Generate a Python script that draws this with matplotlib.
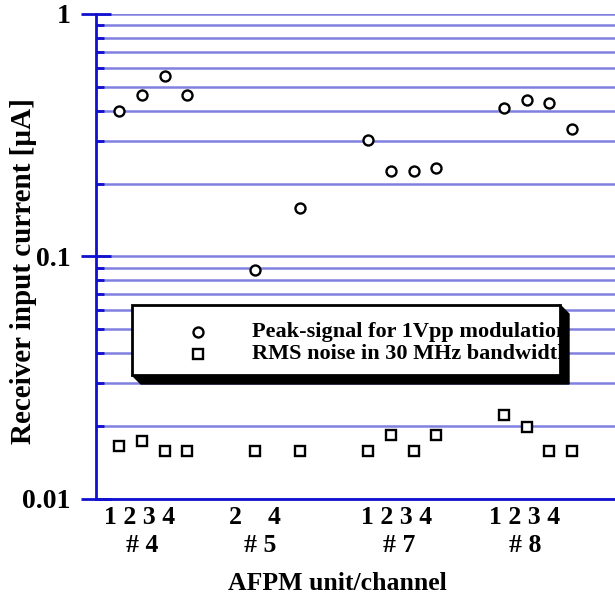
import matplotlib
matplotlib.use("Agg")
import matplotlib.pyplot as plt
import matplotlib.transforms as mtransforms
from matplotlib.patches import Polygon, Rectangle
from matplotlib.lines import Line2D
from matplotlib.ticker import LogLocator, FixedLocator, NullFormatter

# ---------------- data ----------------
positions = [1, 2, 3, 4, 7, 9, 12, 13, 14, 15, 18, 19, 20, 21]
peak_signal = [0.40, 0.463, 0.553, 0.463,
               0.088, 0.159,
               0.303, 0.225, 0.225, 0.231,
               0.408, 0.44, 0.431, 0.336]
rms_noise = [0.0166, 0.0174, 0.0158, 0.0158,
             0.0158, 0.0158,
             0.0158, 0.0184, 0.0158, 0.0184,
             0.0223, 0.0198, 0.0158, 0.0158]
channel_labels = ["1 2 3 4", "2    4", "1 2 3 4", "1 2 3 4"]
channel_label_x = [1.91, 7.0, 13.27, 18.92]
unit_labels = ["# 4", "# 5", "# 7", "# 8"]
unit_label_x = [2.0, 7.21, 13.36, 18.92]
ytick_vals = [0.01, 0.1, 1]
ytick_labels = ["0.01", "0.1", "1"]
legend_labels = ["Peak-signal for 1Vpp modulation", "RMS noise in 30 MHz bandwidth"]

# ---------------- style ----------------
W, H = 615, 604
DPI = 100
SERIF = ["Liberation Serif", "DejaVu Serif"]
DARK = "#1010d0"
GRID = "#8080e0"

fig = plt.figure(figsize=(W / DPI, H / DPI), dpi=DPI)
fig.patch.set_facecolor("white")

ax_left, ax_right, ax_top, ax_bottom = 95.5, 615.0, 14.0, 499.0
ax = fig.add_axes([ax_left / W, 1 - ax_bottom / H,
                   (ax_right - ax_left) / W, (ax_bottom - ax_top) / H])
ax.set_yscale("log")
ax.set_ylim(0.01, 1)
ax.set_xlim(-0.053, 22.9)

for s in ["top", "right"]:
    ax.spines[s].set_visible(False)
for s in ["left", "bottom"]:
    ax.spines[s].set_color(DARK)
    ax.spines[s].set_linewidth(2.0)
    ax.spines[s].set_zorder(3)

# y ticks
ax.yaxis.set_major_locator(FixedLocator(ytick_vals))
ax.set_yticklabels(ytick_labels)
ax.yaxis.set_minor_locator(LogLocator(base=10, subs=range(2, 10)))
ax.yaxis.set_minor_formatter(NullFormatter())
ax.tick_params(axis="y", which="major", direction="inout", length=22, width=2.0,
               color=DARK, pad=7, labelsize=20)
ax.tick_params(axis="y", which="minor", direction="in", length=6, width=2.0,
               color=DARK)
for lab in ax.get_yticklabels():
    lab.set_fontfamily(SERIF)
    lab.set_fontweight("bold")
ax.set_xticks([])

ax.yaxis.grid(True, which="both", color=GRID, linewidth=1.8)
ax.set_axisbelow(True)

MS_O, MS_S, MEW = 7.2, 7.2, 1.7
ax.plot(positions, peak_signal, linestyle="none", marker="o", markersize=MS_O,
        markerfacecolor="white", markeredgecolor="black", markeredgewidth=MEW,
        zorder=5, clip_on=False)
ax.plot(positions, rms_noise, linestyle="none", marker="s", markersize=MS_S,
        markerfacecolor="white", markeredgecolor="black", markeredgewidth=MEW,
        zorder=5, clip_on=False)

# x category labels
trans = mtransforms.blended_transform_factory(ax.transData, fig.transFigure)
for lab, x in zip(channel_labels, channel_label_x):
    ax.text(x, 1 - 518 / H, lab, transform=trans, ha="center", va="center",
            fontsize=18.5, fontweight="bold", family=SERIF)
for lab, x in zip(unit_labels, unit_label_x):
    ax.text(x, 1 - 545 / H, lab, transform=trans, ha="center", va="center",
            fontsize=18.5, fontweight="bold", family=SERIF)

fig.text(337 / W, 1 - 584 / H, "AFPM unit/channel", ha="center", va="center",
         fontsize=18.5, fontweight="bold", family=SERIF)
fig.text(24 / W, 1 - 271 / H, "Receiver input current [µA]", ha="center",
         va="center", rotation=90, fontsize=21, fontweight="bold", family=SERIF)

# ---------------- custom legend with shadow ----------------
def fp(x, y):
    return (x / W, 1 - y / H)

bx0, by0, bx1, by1 = 132, 305, 560, 375
sh = 9
shadow = Polygon([fp(bx0, by1), fp(bx0 + sh, by1 + sh), fp(bx1 + sh, by1 + sh),
                  fp(bx1 + sh, by0 + sh), fp(bx1, by0)], closed=True,
                 transform=fig.transFigure, facecolor="black", edgecolor="black",
                 zorder=10)
fig.add_artist(shadow)
box = Rectangle(fp(bx0, by1), (bx1 - bx0) / W, (by1 - by0) / H,
                transform=fig.transFigure, facecolor="white", edgecolor="black",
                linewidth=2.0, zorder=11)
fig.add_artist(box)
clip_rect = Rectangle(fp(bx0, by1), (bx1 - bx0) / W, (by1 - by0) / H,
                      transform=fig.transFigure, facecolor="none", edgecolor="none")

for i, mk in enumerate(["o", "s"]):
    yy = [332, 354][i]
    ln = Line2D([198 / W], [1 - yy / H], transform=fig.transFigure, marker=mk,
                markersize=MS_O, markerfacecolor="white", markeredgecolor="black",
                markeredgewidth=MEW, linestyle="none", zorder=12)
    fig.add_artist(ln)
    t = fig.text(252 / W, 1 - yy / H, legend_labels[i], ha="left", va="center",
                 fontsize=16, fontweight="bold", family=SERIF, zorder=12)
    t.set_clip_path(clip_rect)
    t.set_clip_on(True)

fig.savefig("out.png", dpi=DPI)
